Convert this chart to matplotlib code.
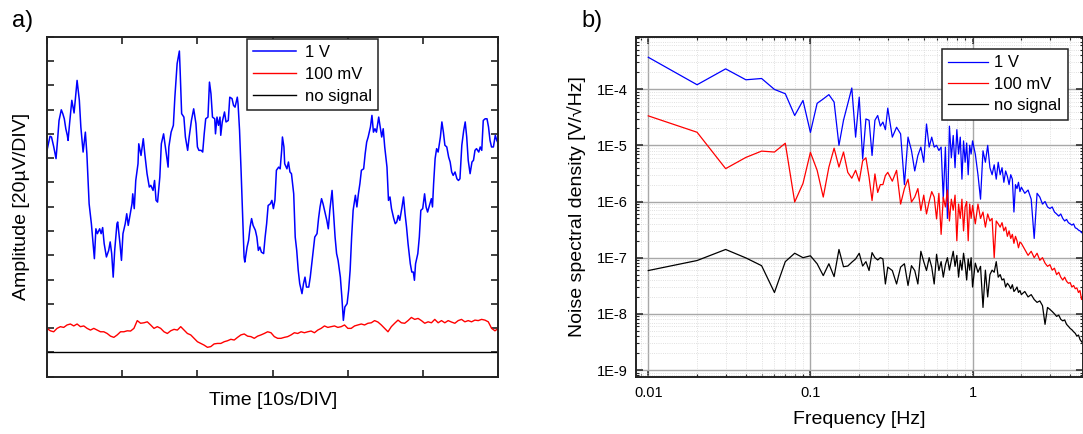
import numpy as np
import matplotlib
matplotlib.use('Agg')
import matplotlib.pyplot as plt
from matplotlib.ticker import LogLocator, FuncFormatter, NullFormatter

plt.rcParams['font.family'] = ['Liberation Sans', 'DejaVu Sans']

# ---- panel a) time traces, in divisions (x: 10 s/DIV, y: 20 uV/DIV) ----
blue_trace = [
    (0.00, 9.32), (0.04, 9.90), (0.06, 9.87), (0.09, 9.46), (0.12, 8.98), (0.14, 9.73),
    (0.16, 10.55), (0.19, 10.99), (0.21, 10.83), (0.23, 10.62), (0.25, 10.21), (0.27, 9.94),
    (0.28, 9.73), (0.30, 10.42), (0.33, 11.38), (0.36, 10.86), (0.40, 12.20), (0.43, 11.38),
    (0.45, 10.28), (0.48, 9.25), (0.51, 10.07), (0.53, 9.18), (0.56, 7.12), (0.59, 6.30),
    (0.63, 4.86), (0.65, 6.09), (0.67, 5.89), (0.70, 6.09), (0.72, 5.89), (0.74, 6.14),
    (0.76, 5.48), (0.79, 4.93), (0.82, 5.20), (0.84, 5.55), (0.86, 5.07), (0.88, 4.10),
    (0.90, 5.20), (0.93, 6.30), (0.94, 6.37), (0.97, 5.48), (0.99, 4.79), (1.01, 5.89),
    (1.04, 6.30), (1.06, 6.71), (1.08, 6.23), (1.10, 6.58), (1.13, 7.12), (1.14, 7.53),
    (1.16, 6.92), (1.18, 8.08), (1.21, 8.77), (1.22, 9.59), (1.25, 9.11), (1.28, 9.80),
    (1.30, 9.18), (1.33, 8.36), (1.36, 7.81), (1.38, 7.88), (1.41, 7.67), (1.43, 8.08),
    (1.45, 7.26), (1.47, 7.19), (1.50, 8.22), (1.52, 9.59), (1.55, 10.00), (1.58, 9.32),
    (1.61, 8.63), (1.62, 9.46), (1.65, 10.07), (1.68, 10.35), (1.70, 11.51), (1.73, 12.89),
    (1.76, 13.41), (1.77, 12.61), (1.79, 10.83), (1.82, 10.69), (1.84, 9.87), (1.87, 9.32),
    (1.89, 9.87), (1.92, 10.55), (1.95, 11.03), (1.98, 10.42), (2.00, 9.46), (2.02, 9.32),
    (2.05, 9.32), (2.07, 9.25), (2.09, 10.00), (2.11, 10.62), (2.14, 10.69), (2.16, 12.13),
    (2.18, 11.65), (2.20, 10.69), (2.23, 10.62), (2.24, 10.00), (2.26, 10.69), (2.28, 10.35),
    (2.30, 10.69), (2.31, 9.94), (2.33, 10.49), (2.36, 10.90), (2.38, 10.49), (2.41, 10.55),
    (2.43, 11.51), (2.46, 11.45), (2.48, 11.17), (2.50, 11.10), (2.53, 11.51), (2.54, 11.24),
    (2.56, 10.14), (2.58, 8.50), (2.60, 6.71), (2.62, 4.93), (2.63, 4.72), (2.66, 5.34),
    (2.68, 5.61), (2.70, 6.16), (2.72, 6.51), (2.74, 6.23), (2.77, 6.03), (2.79, 5.75),
    (2.81, 5.20), (2.83, 5.34), (2.85, 5.13), (2.88, 5.07), (2.90, 5.75), (2.92, 6.30),
    (2.94, 7.05), (2.97, 7.12), (2.99, 7.26), (3.01, 6.92), (3.03, 7.26), (3.05, 8.50),
    (3.08, 8.63), (3.10, 8.56), (3.12, 9.32), (3.13, 9.87), (3.15, 9.46), (3.16, 8.77),
    (3.19, 8.56), (3.21, 8.84), (3.23, 8.43), (3.25, 8.36), (3.28, 7.53), (3.30, 5.75),
    (3.32, 5.20), (3.34, 4.38), (3.36, 3.83), (3.39, 3.42), (3.41, 3.83), (3.43, 4.10),
    (3.45, 3.69), (3.48, 3.69), (3.50, 4.10), (3.52, 4.65), (3.54, 5.20), (3.56, 5.75),
    (3.59, 5.89), (3.61, 6.51), (3.63, 6.99), (3.65, 7.33), (3.67, 7.12), (3.70, 6.71),
    (3.72, 6.44), (3.74, 6.09), (3.76, 6.85), (3.79, 7.67), (3.81, 6.71), (3.83, 5.75),
    (3.85, 5.07), (3.87, 4.79), (3.90, 4.10), (3.92, 3.28), (3.94, 2.32), (3.96, 2.87),
    (3.99, 3.01), (4.01, 3.56), (4.03, 4.38), (4.05, 5.75), (4.07, 6.85), (4.10, 7.47),
    (4.12, 6.99), (4.14, 7.53), (4.16, 7.95), (4.18, 8.50), (4.21, 8.56), (4.23, 9.18),
    (4.25, 9.66), (4.27, 9.87), (4.30, 10.28), (4.32, 10.76), (4.34, 10.07), (4.36, 10.21),
    (4.38, 10.07), (4.41, 10.69), (4.43, 10.28), (4.45, 9.87), (4.47, 10.21), (4.49, 9.46),
    (4.52, 8.63), (4.54, 7.26), (4.56, 7.40), (4.58, 6.92), (4.61, 6.51), (4.63, 6.30),
    (4.65, 6.37), (4.67, 6.64), (4.69, 6.44), (4.72, 6.99), (4.74, 7.40), (4.76, 6.71),
    (4.78, 6.16), (4.80, 5.48), (4.83, 4.65), (4.85, 4.31), (4.87, 4.31), (4.885, 3.97),
    (4.90, 4.65), (4.93, 5.07), (4.95, 5.75), (4.97, 6.85), (4.995, 6.92), (5.02, 7.53),
    (5.04, 6.99), (5.06, 6.78), (5.085, 7.05), (5.11, 7.33), (5.125, 6.99), (5.14, 7.95),
    (5.16, 8.98), (5.18, 9.39), (5.20, 9.25), (5.23, 9.87), (5.25, 10.49), (5.27, 10.07),
    (5.29, 9.53), (5.315, 9.46), (5.34, 9.04), (5.36, 8.84), (5.38, 8.43), (5.40, 8.29),
    (5.425, 8.43), (5.45, 8.15), (5.47, 8.08), (5.49, 8.15), (5.515, 9.53), (5.54, 10.14),
    (5.56, 10.49), (5.58, 9.87), (5.60, 8.91), (5.625, 8.36), (5.65, 8.84), (5.67, 8.91),
    (5.69, 9.32), (5.71, 9.39), (5.74, 9.25), (5.76, 9.46), (5.78, 9.32), (5.80, 10.55),
    (5.825, 10.62), (5.85, 10.62), (5.87, 10.28), (5.89, 9.73), (5.91, 9.46), (5.935, 9.46),
    (5.96, 9.94), (5.98, 9.73), (6.00, 9.60),
]

red_amp = [
    1.99, 1.89, 1.85, 1.99, 2.06, 2.03, 2.13, 2.17, 2.09, 2.17,
    2.06, 2.09, 1.99, 1.92, 1.99, 1.92, 1.85, 1.85, 1.78, 1.67,
    1.62, 1.72, 1.85, 1.85, 1.89, 1.88, 1.99, 2.31, 2.20, 2.22,
    2.26, 2.13, 1.99, 2.06, 1.99, 1.85, 1.78, 1.89, 1.95, 1.92,
    2.06, 1.92, 1.78, 1.72, 1.58, 1.44, 1.37, 1.30, 1.21, 1.24,
    1.35, 1.37, 1.37, 1.44, 1.48, 1.54, 1.51, 1.62, 1.72, 1.76,
    1.67, 1.65, 1.58, 1.67, 1.72, 1.78, 1.85, 1.81, 1.65, 1.58,
    1.58, 1.62, 1.65, 1.72, 1.81, 1.78, 1.85, 1.81, 1.85, 1.88,
    1.81, 1.92, 1.99, 2.09, 2.03, 2.06, 2.09, 2.03, 2.06, 2.13,
    1.99, 1.99, 2.09, 2.13, 2.17, 2.13, 2.20, 2.22, 2.31, 2.25,
    2.13, 1.99, 1.85, 2.06, 2.20, 2.33, 2.22, 2.20, 2.31, 2.44,
    2.36, 2.40, 2.31, 2.20, 2.26, 2.22, 2.36, 2.22, 2.31, 2.22,
    2.31, 2.25, 2.20, 2.31, 2.36, 2.26, 2.31, 2.26, 2.33, 2.31,
    2.36, 2.33, 2.26, 1.99, 1.89, 1.99,
]

black_amp = [1.0, 1.0, 1.0, 1.0, 1.0, 1.0, 1.0]

# ---- panel b) noise spectral density [V/sqrt(Hz)] ----
freq = np.concatenate([np.arange(1, 31) * 0.01,    # 0.01 .. 0.30
                       np.arange(16, 51) * 0.02,   # 0.32 .. 1.00
                       np.arange(26, 51) * 0.04,   # 1.04 .. 2.00
                       np.arange(21, 51) * 0.1])   # 2.1 .. 5.0

psd_1v = [
    3.7e-4, 1.2e-4, 2.3e-4, 1.47e-4, 1.55e-4, 9.9e-5, 8.3e-5, 3.4e-5, 6.3e-5, 1.7e-5,
    5.6e-5, 6.7e-5, 8.0e-5, 5.9e-5, 1.0e-5, 2.8e-5, 5.5e-5, 1.05e-4, 1.4e-5, 7.2e-5,
    5.7e-6, 2.95e-5, 2.8e-5, 6.6e-6, 2.8e-5, 3.4e-5, 2.2e-5, 2.6e-5, 1.9e-5, 4.6e-5,
    # 0.32 .. 1.00
    1.4e-5, 2.1e-5, 1.6e-5, 2.0e-6, 1.4e-5, 8.1e-6, 3.5e-6, 6.6e-6, 9.3e-6, 5.0e-6,
    2.4e-5, 9.3e-6, 1.4e-5, 9.3e-6, 1.0e-5, 8.1e-6, 9.3e-6, 1.1e-6, 9.3e-6, 5.0e-7,
    2.2e-5, 6.0e-6, 1.5e-5, 4.0e-6, 1.9e-5, 7.0e-6, 1.4e-5, 2.5e-6, 1.2e-5, 5.0e-6,
    1.1e-5, 3.0e-6, 1.0e-5, 7.0e-6, 1.2e-5,
    # 1.04 .. 2.00
    7.0e-6, 3.0e-6, 1.1e-6, 8.0e-6, 5.0e-6, 1.0e-5, 4.0e-6, 3.0e-6, 4.5e-6, 2.5e-6,
    5.0e-6, 3.0e-6, 4.0e-6, 2.2e-6, 3.5e-6, 2.8e-6, 2.0e-6, 3.0e-6, 2.5e-6, 6.5e-7,
    2.0e-6, 1.7e-6, 2.2e-6, 1.5e-6, 1.8e-6,
    # 2.1 .. 5.0
    1.4e-6, 1.6e-6, 1.1e-6, 2.2e-7, 1.4e-6, 1.2e-6, 9.0e-7, 1.0e-6, 8.0e-7, 7.5e-7,
    8.0e-7, 6.5e-7, 6.0e-7, 5.5e-7, 6.0e-7, 5.0e-7, 4.5e-7, 4.8e-7, 4.2e-7, 4.0e-7,
    3.8e-7, 4.0e-7, 3.4e-7, 3.3e-7, 3.1e-7, 3.0e-7, 2.8e-7, 2.7e-7, 2.7e-7, 2.6e-7,
]

psd_100mv = [
    3.35e-5, 1.71e-5, 3.85e-6, 6.1e-6, 7.9e-6, 7.6e-6, 1.09e-5, 9.8e-7, 2.1e-6, 7.5e-6,
    3.6e-6, 1.2e-6, 4.1e-6, 8.9e-6, 4.1e-6, 7.6e-6, 3.3e-6, 2.6e-6, 3.6e-6, 2.3e-6,
    5.3e-6, 6.0e-6, 2.7e-6, 1.04e-6, 3.1e-6, 1.45e-6, 2.0e-6, 2.0e-6, 2.9e-6, 3.3e-6,
    # 0.32 .. 1.00
    2.3e-6, 3.6e-6, 9.0e-7, 1.7e-6, 2.5e-6, 9.8e-7, 1.2e-6, 1.7e-6, 6.9e-7, 1.3e-6,
    6.0e-7, 1.0e-6, 1.5e-6, 1.2e-6, 4.9e-7, 1.4e-6, 2.6e-7, 1.2e-6, 8.0e-7, 1.6e-6,
    4.5e-7, 1.1e-6, 7.0e-7, 1.3e-6, 2.0e-7, 9.0e-7, 5.0e-7, 1.1e-6, 3.0e-7, 8.0e-7,
    1.0e-6, 2.0e-7, 9.0e-7, 5.0e-7, 8.5e-7,
    # 1.04 .. 2.00
    4.0e-7, 9.0e-7, 5.0e-7, 6.5e-7, 3.5e-7, 6.0e-7, 4.5e-7, 5.0e-7, 1.0e-7, 4.5e-7,
    4.0e-7, 3.5e-7, 4.2e-7, 3.0e-7, 3.5e-7, 2.4e-7, 3.0e-7, 2.2e-7, 2.6e-7, 1.8e-7,
    2.4e-7, 2.0e-7, 1.5e-7, 1.9e-7, 1.8e-7,
    # 2.1 .. 5.0
    1.4e-7, 1.1e-7, 1.3e-7, 1.0e-7, 1.2e-7, 9.0e-8, 1.0e-7, 8.0e-8, 7.0e-8, 7.5e-8,
    6.0e-8, 6.5e-8, 5.0e-8, 5.5e-8, 4.5e-8, 4.0e-8, 4.5e-8, 3.8e-8, 3.5e-8, 3.6e-8,
    3.0e-8, 3.2e-8, 2.8e-8, 2.9e-8, 2.4e-8, 2.6e-8, 1.8e-8, 2.2e-8, 1.9e-8, 1.7e-8,
]

psd_nosig = [
    5.9e-8, 8.9e-8, 1.4e-7, 9.9e-8, 7.2e-8, 2.4e-8, 8.5e-8, 1.2e-7, 1.0e-7, 1.08e-7,
    7.8e-8, 4.8e-8, 7.8e-8, 4.6e-8, 1.4e-7, 6.9e-8, 7.1e-8, 8.3e-8, 9.5e-8, 1.2e-7,
    7.1e-8, 8.5e-8, 5.9e-8, 1.23e-7, 1.0e-7, 9.1e-8, 1.0e-7, 9.5e-8, 3.4e-8, 6.8e-8,
    # 0.32 .. 1.00
    5.9e-8, 3.4e-8, 6.8e-8, 7.8e-8, 3.2e-8, 7.2e-8, 5.9e-8, 3.4e-8, 1.3e-7, 8.5e-8,
    5.9e-8, 1.0e-7, 6.8e-8, 3.4e-8, 1.15e-7, 5.9e-8, 8.5e-8, 4.5e-8, 7.5e-8, 1.0e-7,
    6.0e-8, 9.0e-8, 1.3e-7, 7.0e-8, 1.1e-7, 4.5e-8, 9.0e-8, 6.0e-8, 1.2e-7, 7.5e-8,
    4.0e-8, 9.5e-8, 6.0e-8, 1.0e-7, 3.0e-8,
    # 1.04 .. 2.00
    8.0e-8, 5.5e-8, 7.0e-8, 1.3e-8, 6.0e-8, 2.0e-8, 5.0e-8, 6.0e-8, 5.5e-8, 8.5e-8,
    4.5e-8, 5.0e-8, 4.0e-8, 4.2e-8, 3.0e-8, 3.5e-8, 3.2e-8, 2.8e-8, 3.3e-8, 2.5e-8,
    2.7e-8, 3.0e-8, 2.4e-8, 2.6e-8, 2.2e-8,
    # 2.1 .. 5.0
    2.5e-8, 2.0e-8, 2.2e-8, 1.8e-8, 1.6e-8, 1.7e-8, 1.4e-8, 6.5e-9, 1.3e-8, 1.2e-8,
    1.1e-8, 1.0e-8, 9.0e-9, 9.5e-9, 8.0e-9, 7.5e-9, 7.8e-9, 6.5e-9, 6.0e-9, 5.5e-9,
    5.2e-9, 4.8e-9, 4.5e-9, 4.0e-9, 4.2e-9, 3.5e-9, 3.2e-9, 3.0e-9, 2.9e-9, 2.8e-9,
]

labels = ['1 V', '100 mV', 'no signal']
colors = ['#0000ff', '#ff0000', '#000000']

W, H = 1083, 434
fig = plt.figure(figsize=(W / 100, H / 100), dpi=100)

# ---------- a) ----------
ax1 = fig.add_axes([47 / W, 1 - 376.7 / H, 451.3 / W, 340 / H])
bt, ba = np.array(blue_trace).T
ax1.plot(bt, ba, color=colors[0], lw=1.1, label=labels[0])
ax1.plot(np.linspace(0, 6, len(red_amp)), red_amp, color=colors[1], lw=1.0, label=labels[1])
ax1.plot(np.linspace(0, 6, len(black_amp)), black_amp, color=colors[2], lw=1.0, label=labels[2])
ax1.set_xlim(0, 6)
ax1.set_ylim(0, 14)
ax1.set_xticks(range(7))
ax1.set_yticks(range(15))
ax1.tick_params(direction='in', length=5, width=1.2, top=True, right=True,
                labelbottom=False, labelleft=False, color='#222222')
for s in ax1.spines.values():
    s.set_linewidth(1.4)
    s.set_color('#222222')
ax1.set_xlabel('Time [10s/DIV]', fontsize=14)
ax1.xaxis.set_label_coords(0.5, -0.045)
ax1.set_ylabel('Amplitude [20µV/DIV]', fontsize=14)
ax1.yaxis.set_label_coords(-0.038, 0.5)
leg1 = ax1.legend(loc='upper left', bbox_to_anchor=(246.7 / W, 1 - 39.3 / H),
                  bbox_transform=fig.transFigure, borderaxespad=0, fancybox=False,
                  edgecolor='#222222', framealpha=1, fontsize=12, handlelength=2.6,
                  handletextpad=0.55, labelspacing=0.42, borderpad=0.35)
leg1.get_frame().set_linewidth(1.1)

# ---------- b) ----------
ax2 = fig.add_axes([636 / W, 1 - 376.7 / H, 447 / W, 340 / H])
for vals, c, lab in zip([psd_1v, psd_100mv, psd_nosig], colors, labels):
    ax2.plot(freq, vals, color=c, lw=0.9, label=lab)
ax2.set_xscale('log')
ax2.set_yscale('log')
ax2.set_xlim(0.0084, 4.8)
ax2.set_ylim(7.6e-10, 8.6e-4)
ax2.set_xticks([0.01, 0.1, 1])
ax2.set_xticklabels(['0.01', '0.1', '1'])
ax2.set_yticks([1e-9, 1e-8, 1e-7, 1e-6, 1e-5, 1e-4])
ax2.yaxis.set_major_formatter(FuncFormatter(lambda v, p: '1E%d' % round(np.log10(v))))
ax2.xaxis.set_minor_locator(LogLocator(base=10, subs=np.arange(2, 10), numticks=20))
ax2.yaxis.set_minor_locator(LogLocator(base=10, subs=np.arange(2, 10), numticks=20))
ax2.xaxis.set_minor_formatter(NullFormatter())
ax2.yaxis.set_minor_formatter(NullFormatter())
ax2.set_axisbelow(True)
ax2.grid(which='major', color='#a8a8a8', lw=1.0)
ax2.grid(which='minor', color='#d6d6d6', lw=0.6, ls=':')
ax2.tick_params(which='both', direction='in', top=True, right=True, color='#222222')
ax2.tick_params(which='major', length=5, width=1.1, labelsize=10.5)
ax2.tick_params(axis='x', which='major', pad=7)
ax2.tick_params(axis='y', which='major', pad=6)
ax2.tick_params(which='minor', length=2.5, width=0.8)
for s in ax2.spines.values():
    s.set_linewidth(1.4)
    s.set_color('#222222')
ax2.set_xlabel('Frequency [Hz]', fontsize=14)
ax2.xaxis.set_label_coords(0.5, -0.101)
ax2.set_ylabel('Noise spectral density [V/√Hz]', fontsize=14)
ax2.yaxis.set_label_coords(-0.112, 0.5)
leg2 = ax2.legend(loc='upper left', bbox_to_anchor=(941.7 / W, 1 - 48.7 / H),
                  bbox_transform=fig.transFigure, borderaxespad=0, fancybox=False,
                  edgecolor='#222222', framealpha=1, fontsize=12, handlelength=2.4,
                  handletextpad=0.35, labelspacing=0.38, borderpad=0.4)
leg2.get_frame().set_linewidth(1.1)

fig.text(12 / W, 1 - 21 / H, 'a)', fontsize=17, ha='left', va='center')
fig.text(581 / W, 1 - 21 / H, 'b)', fontsize=17, ha='left', va='center')

fig.savefig('out.png', dpi=100)
